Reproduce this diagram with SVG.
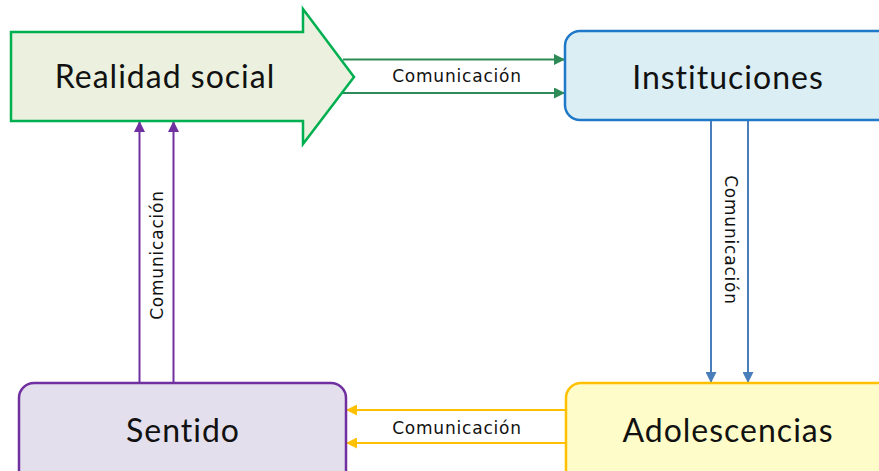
<svg xmlns="http://www.w3.org/2000/svg" width="879" height="471" viewBox="0 0 879 471">
<style>
.node-text{font-family:Lato,"Open Sans","Liberation Sans",sans-serif;font-size:32px;letter-spacing:1px;fill:#111;text-anchor:middle}
.lbl{font-family:"DejaVu Sans","Liberation Sans",sans-serif;font-size:17px;letter-spacing:0.8px;fill:#111;text-anchor:middle}
.c{fill:none;stroke-width:2}
</style>
<defs>
<marker id="aG" viewBox="0 0 10 10" refX="10" refY="5" markerWidth="5.5" markerHeight="5.5" orient="auto" markerUnits="strokeWidth"><path d="M0,0L10,5L0,10z" fill="#2e8b57"/></marker>
<marker id="aB" viewBox="0 0 10 10" refX="10" refY="5" markerWidth="5.5" markerHeight="5.5" orient="auto" markerUnits="strokeWidth"><path d="M0,0L10,5L0,10z" fill="#4a7ebb"/></marker>
<marker id="aP" viewBox="0 0 10 10" refX="10" refY="5" markerWidth="5.5" markerHeight="5.5" orient="auto" markerUnits="strokeWidth"><path d="M0,0L10,5L0,10z" fill="#7030a0"/></marker>
<marker id="aY" viewBox="0 0 10 10" refX="10" refY="5" markerWidth="5.5" markerHeight="5.5" orient="auto" markerUnits="strokeWidth"><path d="M0,0L10,5L0,10z" fill="#ffc000"/></marker>
</defs>
<g id="connectors">
<line class="c" x1="343" y1="59.5" x2="565" y2="59.5" stroke="#2e8b57" marker-end="url(#aG)"/>
<line class="c" x1="343" y1="93" x2="565" y2="93" stroke="#2e8b57" marker-end="url(#aG)"/>
<text class="lbl" x="457" y="82">Comunicación</text>
<line class="c" x1="711" y1="121" x2="711" y2="383" stroke="#4a7ebb" marker-end="url(#aB)"/>
<line class="c" x1="748" y1="121" x2="748" y2="383" stroke="#4a7ebb" marker-end="url(#aB)"/>
<text class="lbl" transform="translate(725,240) rotate(90)">Comunicación</text>
<line class="c" x1="566" y1="410" x2="346" y2="410" stroke="#ffc000" marker-end="url(#aY)"/>
<line class="c" x1="566" y1="443" x2="346" y2="443" stroke="#ffc000" marker-end="url(#aY)"/>
<text class="lbl" x="457" y="434">Comunicación</text>
<line class="c" x1="139.5" y1="383" x2="139.5" y2="121" stroke="#7030a0" marker-end="url(#aP)"/>
<line class="c" x1="173.5" y1="383" x2="173.5" y2="121" stroke="#7030a0" marker-end="url(#aP)"/>
<text class="lbl" transform="translate(163,255) rotate(-90)">Comunicación</text>
</g>
<g id="realidad-social">
<path d="M11,32H303V9L354,77L303,144V121H11Z" fill="#ebf1de" stroke="#00b050" stroke-width="2.5" stroke-linejoin="miter"/>
<text class="node-text" x="165" y="88">Realidad social</text>
</g>
<g id="instituciones">
<rect x="565" y="31" width="330" height="89" rx="15" fill="#dbeef4" stroke="#1f78c8" stroke-width="2.5"/>
<text class="node-text" x="728" y="89">Instituciones</text>
</g>
<g id="sentido">
<rect x="19" y="383" width="327" height="110" rx="15" fill="#e4dfec" stroke="#7030a0" stroke-width="2.5"/>
<text class="node-text" x="183" y="442">Sentido</text>
</g>
<g id="adolescencias">
<rect x="566" y="383" width="330" height="110" rx="15" fill="#fefcc8" stroke="#ffc000" stroke-width="2.5"/>
<text class="node-text" x="728" y="442">Adolescencias</text>
</g>
</svg>
